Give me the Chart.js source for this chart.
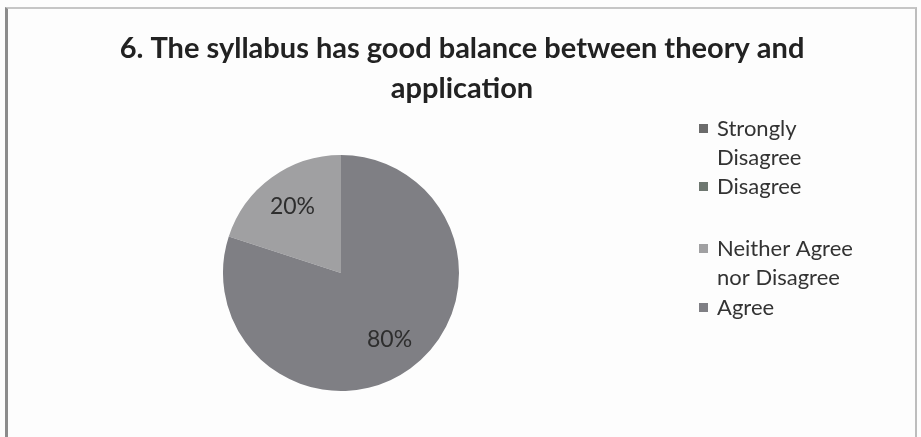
<!DOCTYPE html>
<html lang="en">
<head>
  <meta charset="UTF-8" />
  <title>6. The syllabus has good balance between theory and application</title>
  <script src="https://cdn.jsdelivr.net/npm/chart.js"></script>
  <style>
    html, body { margin: 0; padding: 0; background: #fdfdfd; }
    .frame {
      position: absolute; left: 5px; top: 7px; width: 912px; height: 440px;
      border-left: 3px solid #8c8c8c; border-top: 2px solid #c6c6c6; border-right: 2px solid #bdbdbd;
      box-sizing: border-box;
    }
    #pie { position: absolute; left: 0; top: 0; }
  </style>
</head>
<body>
  <div class="frame"></div>
  <canvas id="pie" width="921" height="437"></canvas>

  <script>
    // Data
    const titleLines = ['6. The syllabus has good balance between theory and', 'application'];
    const categories = ['Strongly Disagree', 'Disagree', 'Neither Agree nor Disagree', 'Agree'];
    const percents = [0, 0, 20, 80];
    const sliceColors = ['#6b6b6b', '#6e7770', '#a0a0a2', '#7f7f84'];

    // legend layout (middle of the first text line of each entry)
    const legendRows = [128, 186, 248, 307];

    const frameText = {
      id: 'frameText',
      afterDraw(chart) {
        const ctx = chart.ctx;
        ctx.save();
        // title
        ctx.fillStyle = '#222';
        ctx.font = 'bold 29px Lato';
        ctx.textAlign = 'center';
        ctx.textBaseline = 'alphabetic';
        titleLines.forEach((t, i) => ctx.fillText(t, 462, 58 + i * 40));

        // legend
        ctx.font = '22px Lato';
        ctx.textAlign = 'left';
        const colors = chart.data.datasets[0].backgroundColor;
        chart.data.labels.forEach((lab, i) => {
          const y = legendRows[i];
          ctx.fillStyle = colors[i];
          ctx.fillRect(699, y - 4, 9, 9);
          // wrap words
          const lines = [];
          let cur = '';
          lab.split(' ').forEach(w => {
            const test = cur ? cur + ' ' + w : w;
            if (cur && ctx.measureText(test).width > 150) { lines.push(cur); cur = w; }
            else cur = test;
          });
          lines.push(cur);
          ctx.fillStyle = '#333';
          lines.forEach((l, j) => ctx.fillText(l, 717, y + 8 + j * 29));
        });
        ctx.restore();
      }
    };

    const sliceLabels = {
      id: 'sliceLabels',
      afterDatasetsDraw(chart) {
        const ctx = chart.ctx;
        const meta = chart.getDatasetMeta(0);
        ctx.save();
        ctx.font = '23px Lato';
        ctx.fillStyle = '#2e2e2e';
        ctx.textAlign = 'center';
        ctx.textBaseline = 'middle';
        meta.data.forEach((arc, i) => {
          const v = chart.data.datasets[0].data[i];
          if (!v) return;
          const { x, y, startAngle, endAngle, outerRadius } = arc.getProps(['x', 'y', 'startAngle', 'endAngle', 'outerRadius'], true);
          const a = (startAngle + endAngle) / 2;
          const r = outerRadius * 0.7;
          ctx.fillText(v + '%', x + Math.cos(a) * r, y + Math.sin(a) * r);
        });
        ctx.restore();
      }
    };

    new Chart(document.getElementById('pie'), {
      type: 'pie',
      data: {
        labels: categories,
        datasets: [{
          data: percents,
          backgroundColor: sliceColors,
          borderWidth: 0
        }]
      },
      options: {
        responsive: false,
        animation: false,
        rotation: 288,
        layout: { padding: { left: 223, right: 462, top: 155, bottom: 46 } },
        plugins: {
          legend: { display: false },
          title: { display: false },
          tooltip: { enabled: false }
        }
      },
      plugins: [sliceLabels, frameText]
    });
  </script>
</body>
</html>
